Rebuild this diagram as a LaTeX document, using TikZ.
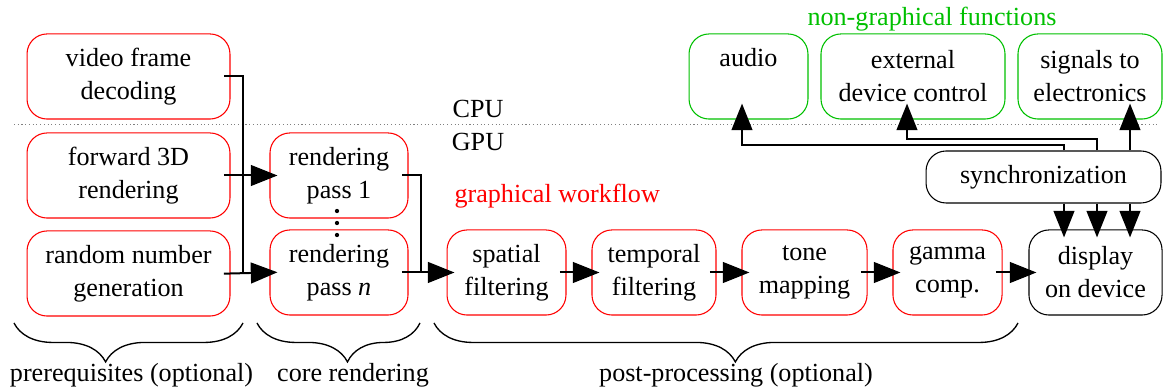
\documentclass[tikz,border=0pt]{standalone}
\usepackage{fontspec}
\setmainfont{Liberation Serif}
\usepackage{xcolor}
\usetikzlibrary{arrows.meta,calc,decorations.pathreplacing}
\definecolor{grn}{RGB}{0,192,0}
\tikzset{
  box/.style={draw=red, rounded corners=7.5pt, minimum height=31.9pt, inner sep=0pt, align=center},
  flow/.style={-{Triangle[length=10pt,width=7.8pt]}, line width=.75pt, shorten >=-3pt, shorten <=-2.5pt},
  bus/.style={line width=.75pt, shorten <=-2.3pt},
  dot/.style={circle, fill, inner sep=0pt, minimum size=1.6pt},
  brc/.style={decorate, decoration={brace, mirror, amplitude=14.6pt}, line width=.5pt}
}

\begin{document}
\begin{tikzpicture}[x=0.375pt,y=-0.375pt,font=\fontsize{9.8pt}{12.4pt}\selectfont]
\useasboundingbox (0,0) rectangle (1164,390);
\coordinate (d0) at (14,124.5);
\coordinate (d1) at (1160,124.5);
\draw[densely dotted, gray, line width=.4pt] (d0) -- (d1);
\node[anchor=base] (cpu) at (478,118) {CPU};
\node[anchor=base] (gpu) at (478,151) {GPU};
\node[anchor=base west, inner sep=0pt, text=red] (gw) at (454,203) {graphical workflow};
\node[anchor=base, text=grn] (ng) at (932,26) {non-graphical functions};
% prerequisites
\node[box, minimum width=76.1pt] (0) at (128.5,76.5) {video frame\\decoding};
\node[box, minimum width=76.1pt] (1) at (128.5,175.5) {forward 3D\\rendering};
\node[box, minimum width=76.1pt] (2) at (128.5,273.5) {random number\\generation};
% core rendering
\node[box, minimum width=51.75pt] (3) at (339,175.5) {rendering\\pass 1};
\node[box, minimum width=51.75pt] (4) at (339,272.5) {rendering\\pass \textit{n}};
\node[dot] (v1) at (337,211) {};
\node[dot] (v2) at (337,223) {};
\node[dot] (v3) at (337,235) {};
% post-processing
\node[box, minimum width=44.6pt] (5) at (506.5,272.5) {spatial\\filtering};
\node[box, minimum width=46.5pt] (6) at (654,272.5) {temporal\\filtering};
\node[box, minimum width=46.9pt] (7) at (804.5,272.5) {tone\\mapping};
\node[box, minimum width=40.9pt] (8) at (947.5,272.5) {gamma\\comp.};
\node[box, draw=black, minimum width=49.9pt] (9) at (1095.5,272.5) {display\\on device};
% non-graphical
\node[box, draw=grn, minimum width=44.6pt] (10) at (748.5,76.5) {audio\\\phantom{g}};
\node[box, draw=grn, minimum width=69pt] (11) at (913,76.5) {external\\device control};
\node[box, draw=grn, minimum width=54pt] (12) at (1090,76.5) {signals to\\electronics};
\node[box, draw=black, minimum width=88.1pt, minimum height=19.5pt] (13) at (1043.5,177) {synchronization};
\coordinate (b) at (243,273.5);
\coordinate (c) at (421,272.5);
\draw[bus] (0.east) -| (b);
\draw[bus] (3.east) -| (c);
\draw[flow] (1.east) -- (3.west);
\draw[flow] (2.east) -- (4.west);
\draw[flow] (4.east) -- (5.west);
\draw[flow] (5.east) -- (6.west);
\draw[flow] (6.east) -- (7.west);
\draw[flow] (7.east) -- (8.west);
\draw[flow] (8.east) -- (9.west);
\draw[flow, shorten <=0pt] ($(13.south)+(20.5,0)$) -- ($(9.north)+(-31.5,0)$);
\draw[flow, shorten <=0pt] ($(13.south)+(53.5,0)$) -- ($(9.north)+(1.5,0)$);
\draw[flow, shorten <=0pt] ($(13.south)+(86.5,0)$) -- ($(9.north)+(34.5,0)$);
\draw[flow, shorten <=0pt] ($(13.north)+(20.5,0)$) |- ($(10.south)+(-6.5,25)$) -- ($(10.south)+(-6.5,-8)$);
\draw[flow, shorten <=0pt] ($(13.north)+(53.5,0)$) |- ($(11.south)+(-6,19)$) -- ($(11.south)+(-6,-8)$);
\draw[flow, shorten <=0pt] ($(13.north)+(86.5,0)$) -- ($(12.south)+(40,-8)$);
% braces
\coordinate (p0) at (14,323);
\coordinate (p1) at (243,323);
\coordinate (p2) at (257,323);
\coordinate (p3) at (420,323);
\coordinate (p4) at (434,323);
\coordinate (p5) at (1018,323);
\draw[brc, decoration={aspect=0.4}] (p0) -- (p1);
\draw[brc, decoration={aspect=0.555}] (p2) -- (p3);
\draw[brc, decoration={aspect=0.516}] (p4) -- (p5);
\node[anchor=base] (l0) at (131.5,382) {prerequisites (optional)};
\node[anchor=base] (l1) at (353,382) {core rendering};
\node[anchor=base] (l2) at (736,382) {post-processing (optional)};
\end{tikzpicture}
\end{document}
